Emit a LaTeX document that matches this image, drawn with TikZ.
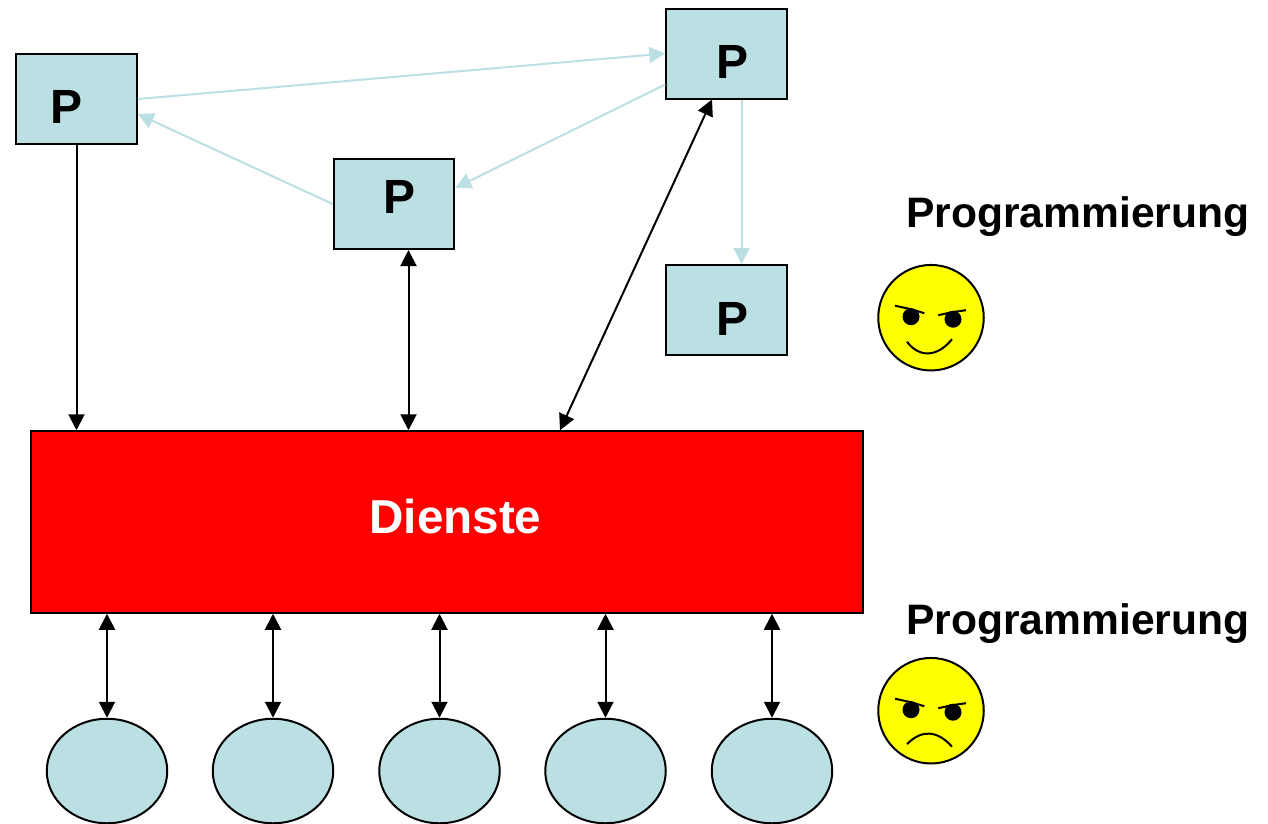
\documentclass[tikz,border=0pt]{standalone}
\usepackage{fontspec}
\setmainfont{Liberation Sans}
\usetikzlibrary{arrows.meta,shapes.geometric}
\definecolor{paleblue}{HTML}{BBE0E3}
\definecolor{faceyellow}{RGB}{255,255,0}
\definecolor{boxred}{RGB}{255,0,0}
\tikzset{
  pbox/.style={draw,fill=paleblue,line width=2pt,minimum width=120.5pt,minimum height=90pt,inner sep=0pt},
  plabel/.style={inner sep=0pt,font=\fontsize{48}{50}\selectfont\bfseries},
  headline/.style={inner sep=0pt,font=\fontsize{42.6}{50}\selectfont\bfseries},
  cell/.style={draw,ellipse,fill=paleblue,line width=2pt,minimum width=120.5pt,minimum height=104.5pt,inner sep=0pt},
  facebase/.style={draw,circle,fill=faceyellow,line width=2pt,minimum size=105.5pt,inner sep=0pt},
  palearrow/.style={draw=paleblue,fill=paleblue,line width=2pt,-{Triangle[length=16pt,width=16pt]}},
  blackarrow/.style={line width=2pt,-{Triangle[length=16pt,width=16pt]}},
  bothways/.style={line width=2pt,{Triangle[length=16pt,width=16pt]}-{Triangle[length=16pt,width=16pt]}},
  eyes/.pic={
    \fill (-20,-1) circle (8.5);
    \fill (22,1.5) circle (8.5);
    \draw[line width=2pt] (-36,-12) -- (-20,-8.5) -- (-6.7,-4.5);
    \draw[line width=2pt] (7.3,-2.5) -- (20.7,-5.5) -- (35,-7.5);
  }
}
\begin{document}
\begin{tikzpicture}[x=1pt,y=-1pt]
  \useasboundingbox (0,0) rectangle (1268,823);
  % peers
  \node[pbox] (A) at (76.5,99) {};
  \node[pbox] (B) at (394,204) {};
  \node[pbox] (C) at (726.5,53.5) {};
  \node[pbox] (D) at (726.5,310) {};
  \node[plabel] (Atext) at (66.5,107) {P};
  \node[plabel] (Btext) at (399.5,197) {P};
  \node[plabel] (Ctext) at (732,62) {P};
  \node[plabel] (Dtext) at (732,319) {P};
  % services
  \node[draw,fill=boxred,line width=2pt,minimum width=831.5pt,minimum height=181.5pt,inner sep=0pt] (S) at (447,522) {};
  \node[inner sep=0pt,text=white,font=\fontsize{47.6}{50}\selectfont\bfseries] (Stext) at (455.5,516) {Dienste};
  \draw[palearrow] (A.east) -- (C.west);
  \draw[palearrow] ([yshift=-31pt]C.west) -- ([yshift=16pt]B.east);
  \draw[palearrow] (B.west) -- ([yshift=-15pt]A.east);
  \draw[palearrow] ([xshift=15pt]C.south) -- ([xshift=15pt]D.north);
  \draw[blackarrow] (A.south) -- (A.south |- S.north);
  \draw[bothways] ([xshift=14.5pt]B.south) -- ([xshift=14.5pt]B.south |- S.north);
  \draw[bothways] ([xshift=-14.5pt]C.south) -- ([xshift=113pt]S.north);
  % nodes below the services
  \foreach \name/\xpos in {c1/107,c2/273,c3/439.5,c4/605.5,c5/772} {
    \node[cell] (\name) at (\xpos,771) {};
    \draw[bothways] (\name.north |- S.south) -- (\name.north);
  }
  % text and faces
  \node[headline,anchor=base west] (prog1) at (906,227) {Programmierung};
  \node[headline,anchor=base west] (prog2) at (906,634) {Programmierung};
  \node[facebase] (happy) at (931,317.7) {};
  \node[facebase] (angry) at (931,710.7) {};
  \pic at (happy) {eyes};
  \pic at (angry) {eyes};
  \draw[line width=2pt] ([shift={(-24,24)}]happy.center) .. controls ([shift={(-12,40)}]happy.center) and ([shift={(6,40)}]happy.center) .. ([shift={(21,21.5)}]happy.center);
  \draw[line width=2pt] ([shift={(-24,33.5)}]angry.center) .. controls ([shift={(-10,19)}]angry.center) and ([shift={(6,19)}]angry.center) .. ([shift={(21,36)}]angry.center);
\end{tikzpicture}
\end{document}
